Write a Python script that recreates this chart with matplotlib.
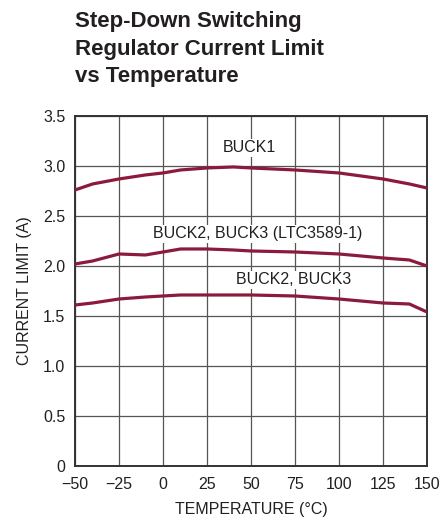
import matplotlib
matplotlib.use('Agg')
import matplotlib.pyplot as plt
import numpy as np

plt.rcParams['font.family'] = ['Liberation Sans', 'DejaVu Sans']

# data
temp = [-50, -40, -25, -10, 0, 10, 25, 40, 50, 75, 100, 125, 140, 150]
buck1 = [2.76, 2.82, 2.87, 2.91, 2.93, 2.96, 2.98, 2.99, 2.98, 2.96, 2.93, 2.87, 2.82, 2.78]
buck23_ltc = [2.02, 2.05, 2.12, 2.11, 2.14, 2.17, 2.17, 2.16, 2.15, 2.14, 2.12, 2.08, 2.06, 2.00]
buck23 = [1.61, 1.63, 1.67, 1.69, 1.70, 1.71, 1.71, 1.71, 1.71, 1.70, 1.67, 1.63, 1.62, 1.54]

xticks = [-50, -25, 0, 25, 50, 75, 100, 125, 150]
xticklabels = ['\u221250', '\u221225', '0', '25', '50', '75', '100', '125', '150']
yticks = [0, 0.5, 1.0, 1.5, 2.0, 2.5, 3.0, 3.5]
yticklabels = ['0', '0.5', '1.0', '1.5', '2.0', '2.5', '3.0', '3.5']

red = '#8c1a3c'
ink = '#231f20'

fig = plt.figure(figsize=(4.42, 5.2), dpi=100)
ax = fig.add_axes([0.1697, 0.1038, 0.7963, 0.6732])

for y in (buck1, buck23_ltc, buck23):
    ax.plot(temp, y, color=red, lw=2.3, solid_capstyle='butt', zorder=3)

ax.set_xlim(-50, 150)
ax.set_ylim(0, 3.5)
ax.set_xticks(xticks)
ax.set_xticklabels(xticklabels)
ax.set_yticks(yticks)
ax.set_yticklabels(yticklabels)
ax.tick_params(axis='x', length=0, labelsize=11.5, colors=ink, pad=8)
ax.tick_params(axis='y', length=0, labelsize=11.5, colors=ink, pad=7)
ax.grid(True, color='#555555', lw=0.9)
for s in ax.spines.values():
    s.set_color('#333333')
    s.set_linewidth(1.4)

ax.set_xlabel('TEMPERATURE (\u00b0C)', fontsize=11.5, color=ink, labelpad=7)
ax.set_ylabel('CURRENT LIMIT (A)', fontsize=11.5, color=ink, labelpad=8)

lab = dict(ha='center', va='center', fontsize=11.5, color=ink,
           bbox=dict(fc='white', ec='none', pad=1))
ax.text(49, 3.18, 'BUCK1', **lab)
ax.text(54, 2.32, 'BUCK2, BUCK3 (LTC3589-1)', **lab)
ax.text(74, 1.86, 'BUCK2, BUCK3', **lab)

fig.text(0.17, 0.978, 'Step-Down Switching\nRegulator Current Limit\nvs Temperature',
         ha='left', va='top', fontsize=16, fontweight='bold', color=ink,
         linespacing=1.4)

fig.savefig('out.png', dpi=100)
